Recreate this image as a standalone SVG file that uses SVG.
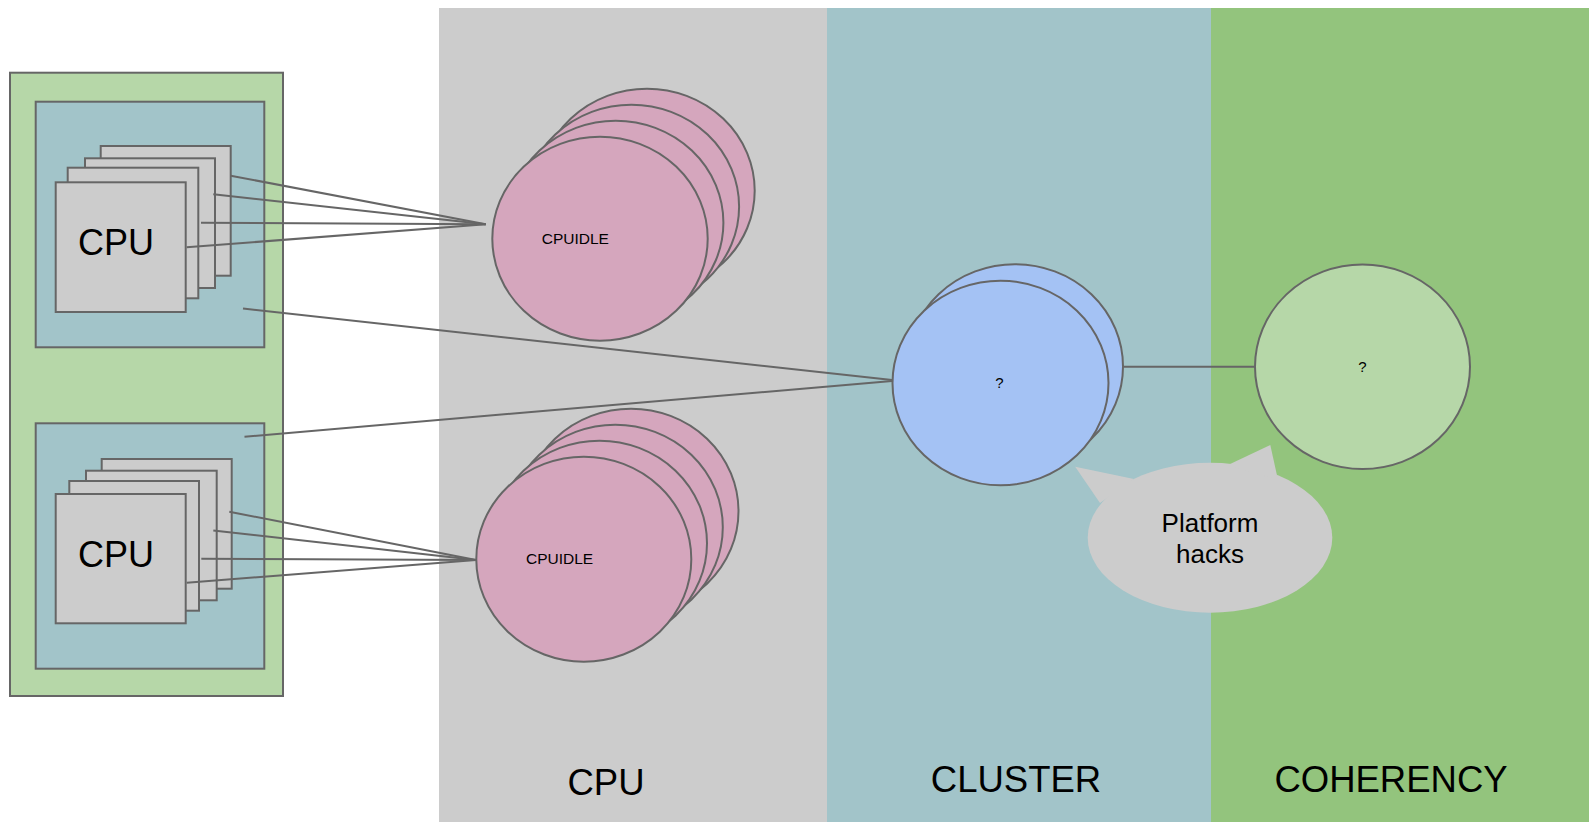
<svg xmlns="http://www.w3.org/2000/svg" width="1589" height="822" viewBox="0 0 1589 822">
<style>
  .st { stroke:#666666; stroke-width:2; }
  .cpu { fill:#cccccc; stroke:#666666; stroke-width:2; }
  .pink { fill:#d5a6bd; stroke:#666666; stroke-width:2; }
  .blue { fill:#a4c2f4; stroke:#666666; stroke-width:2; }
  .lgreen { fill:#b6d7a8; stroke:#666666; stroke-width:2; }
  .teal { fill:#a2c4c9; stroke:#666666; stroke-width:2; }
  .conn { stroke:#666666; stroke-width:2; fill:none; }
  text { font-family:"Liberation Sans", Arial, sans-serif; fill:#000000; }
  .big { font-size:36px; }
  .small { font-size:15.5px; }
  .q { font-size:15px; text-anchor:middle; }
  .lbl { font-size:36.5px; text-anchor:middle; }
</style>
<rect width="1589" height="822" fill="#ffffff"/>
<g id="bands">
  <rect x="439" y="8" width="388" height="814" fill="#cccccc"/>
  <rect x="827" y="8" width="384" height="814" fill="#a2c4c9"/>
  <rect x="1211" y="8" width="378" height="814" fill="#93c47d"/>
  <text class="lbl" x="606" y="795">CPU</text>
  <text class="lbl" x="1016" y="792">CLUSTER</text>
  <text class="lbl" x="1391" y="792">COHERENCY</text>
</g>
<g id="coherency-domain">
  <rect class="lgreen" x="10" y="72.7" width="273" height="623.3"/>
</g>
<g id="cluster-top">
  <rect class="teal" x="35.7" y="101.7" width="228.6" height="245.6"/>
  <rect class="cpu" x="100.7" y="146" width="130" height="129.7"/>
  <rect class="cpu" x="85" y="158.3" width="130" height="129.7"/>
  <rect class="cpu" x="67.7" y="167.7" width="130.6" height="130.6"/>
  <rect class="cpu" x="55.7" y="182.3" width="130" height="129.7"/>
  <text class="big" x="78" y="255">CPU</text>
</g>
<g id="cluster-bottom">
  <rect class="teal" x="35.7" y="423.3" width="228.6" height="245.4"/>
  <rect class="cpu" x="101.7" y="459" width="130" height="129.7"/>
  <rect class="cpu" x="86" y="470.7" width="130.7" height="129.6"/>
  <rect class="cpu" x="69.3" y="481" width="129.7" height="129.7"/>
  <rect class="cpu" x="55.7" y="494" width="130" height="129.3"/>
  <text class="big" x="78" y="566.7">CPU</text>
</g>
<g id="cpuidle-top">
  <ellipse class="pink" cx="647" cy="190.7" rx="107.7" ry="102"/>
  <ellipse class="pink" cx="631.4" cy="206.7" rx="107.7" ry="102"/>
  <ellipse class="pink" cx="615.7" cy="222.7" rx="107.7" ry="102"/>
  <ellipse class="pink" cx="600" cy="238.7" rx="107.7" ry="102"/>
  <text class="small" x="541.7" y="244">CPUIDLE</text>
</g>
<g id="cpuidle-bottom">
  <ellipse class="pink" cx="631" cy="511.2" rx="107.5" ry="102.5"/>
  <ellipse class="pink" cx="615.3" cy="527.2" rx="107.5" ry="102.5"/>
  <ellipse class="pink" cx="599.5" cy="543.2" rx="107.5" ry="102.5"/>
  <ellipse class="pink" cx="583.8" cy="559.2" rx="107.5" ry="102.5"/>
  <text class="small" x="526" y="564">CPUIDLE</text>
</g>
<g id="cluster-state">
  <ellipse class="blue" cx="1015" cy="366.5" rx="108" ry="102.3"/>
  <ellipse class="blue" cx="1000.5" cy="383" rx="108" ry="102.3"/>
  <text class="q" x="999.4" y="388.3">?</text>
</g>
<g id="coherency-state">
  <ellipse class="lgreen" cx="1362.5" cy="366.7" rx="107.5" ry="102.3"/>
  <text class="q" x="1362.5" y="371.7">?</text>
</g>
<g id="platform-hacks">
  <ellipse cx="1210" cy="537.7" rx="122.3" ry="75" fill="#cccccc"/>
  <polygon points="1075.2,466.7 1134,479 1100,503" fill="#cccccc"/>
  <polygon points="1270.3,445 1228,465 1278,480" fill="#cccccc"/>
  <text x="1210" y="531.7" font-size="26" text-anchor="middle">Platform</text>
  <text x="1210" y="563.3" font-size="26" text-anchor="middle">hacks</text>
</g>
<g id="connectors">
  <line class="conn" x1="230.7" y1="175.7" x2="485.7" y2="224.3"/>
  <line class="conn" x1="213.3" y1="194.3" x2="485.7" y2="224.3"/>
  <line class="conn" x1="201" y1="222.7" x2="485.7" y2="224.3"/>
  <line class="conn" x1="186.7" y1="247.3" x2="485.7" y2="224.3"/>
  <line class="conn" x1="229.3" y1="511.7" x2="476" y2="560"/>
  <line class="conn" x1="213.3" y1="530.5" x2="476" y2="560"/>
  <line class="conn" x1="201.3" y1="558.8" x2="476" y2="560"/>
  <line class="conn" x1="186.7" y1="582.7" x2="476" y2="560"/>
  <line class="conn" x1="243" y1="308.5" x2="892" y2="380"/>
  <line class="conn" x1="244.5" y1="436.7" x2="892" y2="381"/>
  <line class="conn" x1="1123.8" y1="366.7" x2="1255" y2="366.7"/>
</g>
</svg>
